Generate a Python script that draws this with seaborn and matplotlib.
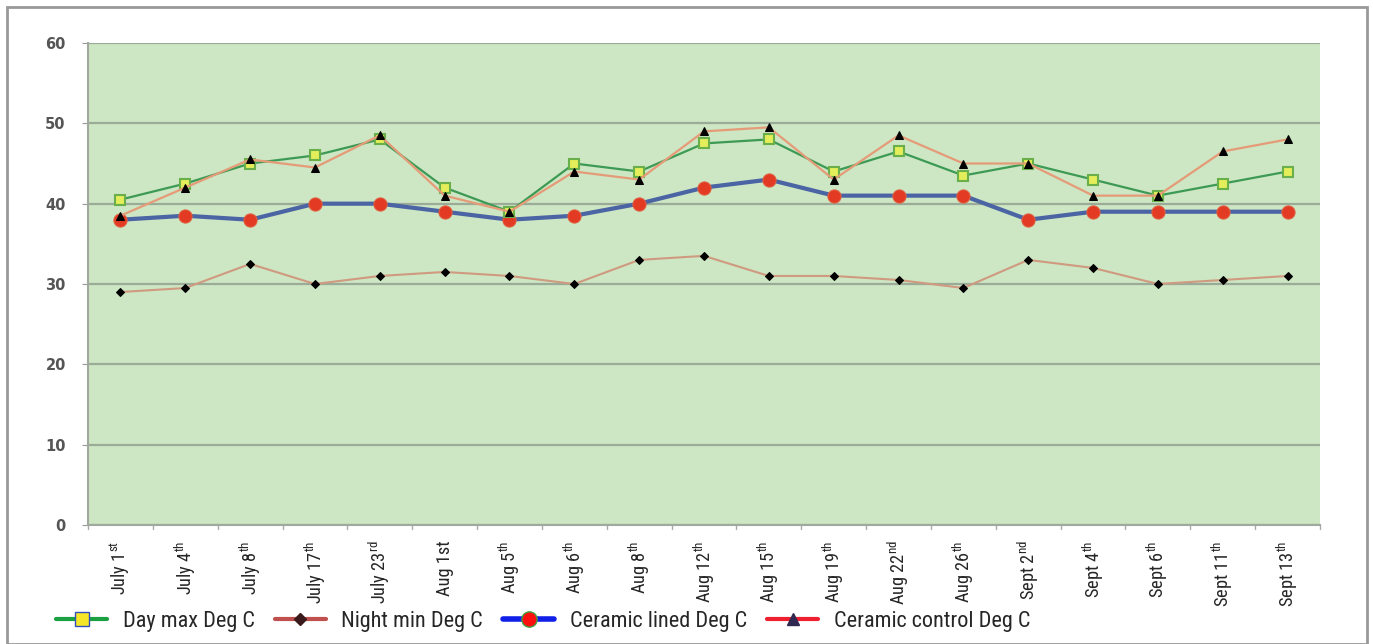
import numpy as np
import pandas as pd
import matplotlib
matplotlib.use("Agg")
import matplotlib.pyplot as plt
from matplotlib.lines import Line2D
from matplotlib.patches import Rectangle
import seaborn as sns

dates = [r"July 1$^{st}$", r"July 4$^{th}$", r"July 8$^{th}$", r"July 17$^{th}$",
         r"July 23$^{rd}$", "Aug 1st", r"Aug 5$^{th}$", r"Aug 6$^{th}$", r"Aug 8$^{th}$",
         r"Aug 12$^{th}$", r"Aug 15$^{th}$", r"Aug 19$^{th}$", r"Aug 22$^{nd}$",
         r"Aug 26$^{th}$", r"Sept 2$^{nd}$", r"Sept 4$^{th}$", r"Sept 6$^{th}$",
         r"Sept 11$^{th}$", r"Sept 13$^{th}$"]
day_max = [40.5, 42.5, 45, 46, 48, 42, 39, 45, 44, 47.5, 48, 44, 46.5, 43.5, 45, 43, 41, 42.5, 44]
night_min = [29, 29.5, 32.5, 30, 31, 31.5, 31, 30, 33, 33.5, 31, 31, 30.5, 29.5, 33, 32, 30, 30.5, 31]
ceramic_lined = [38, 38.5, 38, 40, 40, 39, 38, 38.5, 40, 42, 43, 41, 41, 41, 38, 39, 39, 39, 39]
ceramic_control = [38.5, 42, 45.5, 44.5, 48.5, 41, 39, 44, 43, 49, 49.5, 43, 48.5, 45, 45, 41, 41, 46.5, 48]
y_ticks = [0, 10, 20, 30, 40, 50, 60]

df = pd.DataFrame({"pos": np.arange(len(dates)), "day": day_max, "night": night_min,
                   "lined": ceramic_lined, "control": ceramic_control})

sns.set_style("white")
plt.rcParams["font.family"] = ["Roboto Condensed", "Roboto", "DejaVu Sans"]
plt.rcParams["mathtext.default"] = "regular"

fig = plt.figure(figsize=(13.73, 6.44), dpi=100)
ax = fig.add_axes([88 / 1373, 1 - 525 / 644, (1320 - 88) / 1373, (525 - 43) / 644])
ax.set_facecolor("#cde6c3")

sns.lineplot(data=df, x="pos", y="night", ax=ax, color="#cf9a80", lw=1.5, marker="D",
             markersize=4.5, markerfacecolor="black", markeredgecolor="black", zorder=3)
sns.lineplot(data=df, x="pos", y="lined", ax=ax, color="#4a64a4", lw=3, marker="o",
             markersize=9.5, markerfacecolor="#e33a24", markeredgecolor="#e06040", zorder=4)
sns.lineplot(data=df, x="pos", y="day", ax=ax, color="#3d9a55", lw=1.6, marker="s",
             markersize=7, markerfacecolor="#e4ee5a", markeredgecolor="#6ab04a", markeredgewidth=1.5, zorder=5)
sns.lineplot(data=df, x="pos", y="control", ax=ax, color="#e59b78", lw=1.6, marker="^",
             markersize=5.5, markerfacecolor="black", markeredgecolor="black", zorder=6)

ax.set_xlim(-0.5, len(dates) - 0.5)
ax.set_ylim(0, 60)
ax.set_yticks(y_ticks)
ax.set_yticklabels([str(v) for v in y_ticks], fontsize=10.5, fontweight="bold", color="#555555",
                   family="DejaVu Sans")
ax.set_xticks(df["pos"])
ax.set_xticklabels(dates, rotation=90, fontsize=13.2)
ax.tick_params(axis="x", length=0, pad=11)
ax.tick_params(axis="y", length=4, color="#999999", pad=12, left=True)
for b in np.arange(-0.5, len(dates), 1):
    ax.plot([b, b], [0, -0.5], color="#aaaaaa", lw=1, clip_on=False)
ax.grid(axis="y", color="#9aac98", lw=1.6)
ax.set_axisbelow(True)
ax.set_xlabel("")
ax.set_ylabel("")
for s in ["top", "right"]:
    ax.spines[s].set_visible(False)
ax.spines["left"].set_color("#a0a8a0")
ax.spines["bottom"].set_color("#a0a8a0")
ax.spines["left"].set_linewidth(1.5)
ax.spines["bottom"].set_linewidth(1.5)

handles = [
    Line2D([], [], color="#1aa040", lw=3, marker="s", markersize=10,
           markerfacecolor="#f5e628", markeredgecolor="#3050c0"),
    Line2D([], [], color="#c0504d", lw=3, marker="D", markersize=6,
           markerfacecolor="#3a1a1a", markeredgecolor="#3a1a1a"),
    Line2D([], [], color="#1020e8", lw=4, marker="o", markersize=11,
           markerfacecolor="#ff1010", markeredgecolor="#40a040"),
    Line2D([], [], color="#ee2030", lw=3, marker="^", markersize=8,
           markerfacecolor="#302850", markeredgecolor="#302850"),
]
labels = ["Day max Deg C", "Night min Deg C", "Ceramic lined Deg C", "Ceramic control Deg C"]
fig.legend(handles, labels, loc="center left", bbox_to_anchor=(56 / 1373, 1 - 621 / 644),
           ncol=4, frameon=False, fontsize=16, handlelength=2.3, columnspacing=0.9,
           handletextpad=0.7, borderpad=0, borderaxespad=0)

fig.patches.append(Rectangle((7 / 1373, 0), (1367 - 7) / 1373, 1 - 7 / 644,
                             transform=fig.transFigure, fill=False, edgecolor="#999999", lw=2))

fig.savefig("out.png", dpi=100)
